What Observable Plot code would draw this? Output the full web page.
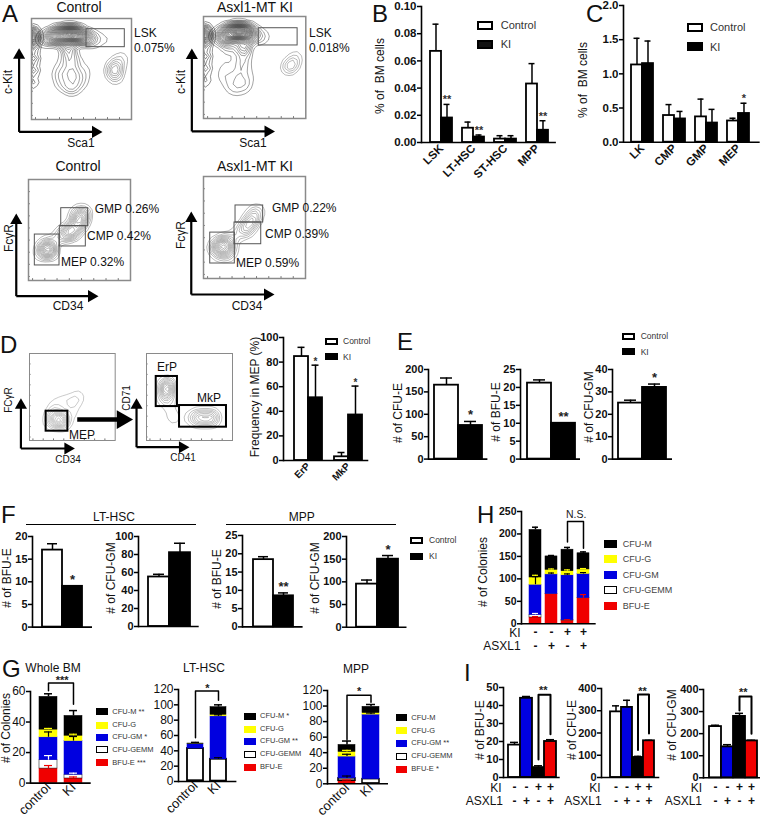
<!DOCTYPE html>
<html><head><meta charset="utf-8">
<script src="https://cdn.jsdelivr.net/npm/d3@7"></script>
<script src="https://cdn.jsdelivr.net/npm/@observablehq/plot@0.6"></script>
<style>
html,body{margin:0;padding:0;background:#fff}
#root{position:relative;width:763px;height:817px;overflow:hidden;font-family:"Liberation Sans",Arial,sans-serif;color:#111}
#root svg{position:absolute;overflow:visible;background:transparent}
.t{position:absolute;white-space:pre;line-height:1}
.s{position:absolute;box-sizing:border-box}
</style></head><body><div id="root"></div>
<script>
// ---------- Data ----------
const seriesFill={Control:"#fff",KI:"#000"};
const bGroups=["LSK","LT-HSC","ST-HSC","MPP"];
const bControl=[.067,.0105,.0025,.043], bControlTop=[.087,.015,.005,.058];
const bKI=[.018,.004,.0025,.009], bKITop=[.028,.0055,.005,.016];
const bStars=["**","**","","**"];
const cGroups=["LK","CMP","GMP","MEP"];
const cControl=[1.13,.39,.37,.31], cControlTop=[1.52,.55,.63,.35];
const cKI=[1.15,.34,.28,.42], cKITop=[1.48,.45,.48,.57];
const cStars=["","","","*"];
const dGroups=["ErP","MkP"];
const dControl=[84.5,3], dControlTop=[92,6.5];
const dKI=[51,37], dKITop=[77.5,60.5];
const dStars=["*","*"];
const pairLabels=["Control","KI"];
const eCFUE=[165,75], eCFUETop=[181,84];
const eBFUE=[21.2,10], eBFUETop=[22.1,10];
const eCFUGM=[25,32], eCFUGMTop=[26.3,33.5];
const fLtBFUE=[17,9], fLtBFUETop=[18.4,9];
const fLtGM=[55,82], fLtGMTop=[58,92.5];
const fMppBFUE=[18.4,8.5], fMppBFUETop=[19.2,9.3];
const fMppGM=[95,150], fMppGMTop=[104,158];
const colonyTypes=["BFU-E","CFU-GEMM","CFU-GM","CFU-G","CFU-M"];
const colonyColors=["#f00000","#ffffff","#0000e0","#ffff00","#000000"];
const hCats=["a","b","c","d"];
const hStacks=[[14,6,67,16,106],[66,.5,43.5,10,30],[7,1,100,9,48],[57,.5,53.5,10,36]];
const hTop=[215,152,170,160];
const hInner=[["a",14,16,"#f00000"],["a",20,23,"#fff"],["a",87,105,"#000"],["a",103,108,"#ff0"],["b",110,113,"#000"],["b",120,122,"#ff0"],
  ["c",7,9,"#f00000"],["c",108,111,"#000"],["c",117,120,"#ff0"],["d",57,65,"#f00000"],["d",111,114,"#000"],["d",121,123,"#ff0"]];
const gCats=["control","KI"];
const g1Stacks=[[9.5,5.5,15,5,21.5],[3,2.5,22,3.5,13]];
const g1Top=[58.5,47.5];
const g1Inner=[["control",9.5,11.5,"#f00000"],["control",15,18,"#fff"],["control",30,33.5,"#000"],["control",35,35.8,"#ff0"],
  ["KI",3,4,"#f00000"],["KI",5.5,6.5,"#fff"],["KI",27.5,30.5,"#000"],["KI",31,32,"#ff0"]];
const g2Stacks=[[1,42,6,.1,.4],[.5,28.5,56,2,10]];
const g2Top=[51,100];
const g2Inner=[["KI",29,31,"#000"],["KI",85,87,"#000"]];
const g3Stacks=[[4,3,28,6,9],[.5,5.5,83,2,8]];
const g3Top=[55,102];
const g3Inner=[["control",4,5,"#f00000"],["control",7,10,"#000"],["control",35,38,"#000"],["control",41,43,"#ff0"],["KI",89,91,"#000"]];
const iCats=["--","-+","+-","++"];
const iColors=["#fff","#0000e0","#000","#f00000"];
const iBFUE=[18,44,5.5,20], iBFUETop=[19.5,45,6.5,21];
const iCFUE=[295,315,90,165], iCFUETop=[322,347,95,167];
const iCFUGM=[232,140,278,167], iCFUGMTop=[238,150,292,170];
const kiRow=["-","-","+","+"], asxlRow=["-","+","-","+"];

// flow cytometry populations: [x %, y %, weight]
const a1Main=[[8,79,.5],[12,80,1],[16,81,1.8],[20,82,3],[24,83,3.5],[28,84,4],[32,84,5],[36,85,6],[40,85,6],[44,84,6],[48,83,4],[52,82,3],[56,81,2.2],[60,80,1.4],[65,80,.8],[70,79,.5],[75,79,.3],[80,79,.2],
 [34,78,2],[36,73,2],[37,68,1.8],[39,63,1.4],[40,58,1.1],[40,52,1],[40,46,1],[32,58,.5],[29,52,.6],[27,46,.7],[28,40,.8],[31,35,.9],[36,32,1],[41,31,1],[46,33,.9],[50,38,.8],[52,44,.7],[53,50,.5],[50,58,.4],[34,46,1],[40,40,1.1],[45,44,.9]];
const a1Sat=[[82,48,1],[84,52,1],[90,60,.5],[84,42,.5]];
const a2Main=[[10,79,.5],[14,81,1],[18,82,1.8],[22,83,3],[26,84,4],[30,85,5],[34,86,6],[38,85,6],[42,84,4.5],[46,83,3],[50,81,1.2],[55,80,.7],[60,80,.4],[66,80,.2],
 [22,76,2.2],[26,71,1],[38,74,2],[39,70,1.6],[40,65,1.1],[38,60,.9],[38,54,.9],[37,48,.9],[24,58,.35],[20,50,.45],[19,43,.5],[22,36,.6],[27,31,.7],[33,28,.7],[39,31,.7],[44,36,.6],[46,44,.4],[30,42,.8],[36,38,.9]];
const a2Sat=[[83,50,1],[87,54,.9],[90,60,.5]];
const a3Main=[[14,28,2],[16,32,3],[19,32,4],[22,30,3],[17,24,1.2],[17,38,1],[24,40,.8],[30,43,1.4],[36,46,3],[40,48,4],[44,50,4],[48,54,3.5],[50,60,4],[52,64,3.5],[54,67,2.2],[46,66,1.6]];
const a4Main=[[12,30,3],[16,32,5],[20,34,6],[24,30,5],[18,24,3],[24,24,1.5],[26,38,1.6],[32,42,1.4],[38,47,2.6],[42,50,3.5],[46,54,3.2],[48,58,3],[50,62,2.5],[53,67,1.6]];
const d1Main=[[24,22,2.5],[30,26,4],[34,24,6],[38,22,6],[28,34,1.6],[30,42,1.2],[38,46,1],[46,44,1.2],[52,44,1.2],[57,48,1.2],[58,56,.7],[48,28,.9],[52,34,.7]];
const d2Main=[[22,48,2.5],[23,54,4],[23,60,5],[23,66,3],[26,40,.8],[30,30,1.3],[32,22,.8],[50,26,1.2],[56,26,2],[62,26,4],[68,26,4],[74,26,4],[80,26,2]];
const leftStrip=[[2.5,90,.8],[2.5,86,1.4],[2.5,82,1.6],[2.5,78,1.4],[2.5,74,1],[2.5,68,.9],[2.5,62,.8],[2.5,56,.7],[2.5,50,.7],[2.5,44,.5],[2.5,38,.4],[2.5,32,.3]];

// ---------- Helpers ----------
const root=document.getElementById("root");
function txt(x,y,s,{size=12,weight="normal",anchor="start",rot=0,color="#111"}={}){
  const e=document.createElement("div");e.className="t";e.textContent=s;
  const tx=anchor==="middle"?"-50%":anchor==="end"?"-100%":"0";
  Object.assign(e.style,{left:x+"px",top:y+"px",fontSize:size+"px",fontWeight:weight,color,transform:`translate(${tx},-50%) rotate(${rot}deg)`});
  root.appendChild(e);
}
function legend(x,w,h,tx,ys,names,fills,strokes,size,color="#333",sw=2){
  names.forEach((n,i)=>{
    const e=document.createElement("div");e.className="s";
    Object.assign(e.style,{left:x+"px",top:(ys[i]-h/2)+"px",width:w+"px",height:h+"px",background:fills[i],border:`${sw}px solid ${strokes[i]}`});
    root.appendChild(e);
    txt(tx,ys[i],n,{size,color});
  });
}
function mount(svg,left,top){svg.style.left=left+"px";svg.style.top=top+"px";root.appendChild(svg);}

function yAxisMarks(o){
  return [
    Plot.frame({anchor:"left",stroke:"#000",strokeWidth:1.6}),
    Plot.ruleY([0],{stroke:"#000",strokeWidth:1.6}),
    Plot.axisY({ticks:o.ticks,tickSize:4,tickPadding:1,label:null,tickFormat:o.fmt||d3.format("d"),
      strokeWidth:1.5,stroke:"#000",fill:"#111",fontSize:o.fs||11,fontWeight:o.fw||"bold",anchor:"left"})
  ];
}
const plotStyle={fontFamily:"Liberation Sans",background:"transparent",color:"#111"};
// grouped (Control / KI) bars, one facet for each category; axes in a plot of their own beneath
function grouped(o){
  const mL=45,mT=10,mR=5,mB=45,off=o.axisX-mL;
  const rows=[];
  o.groups.forEach((g,i)=>{
    rows.push({g,s:"Control",v:o.control[i],e:o.controlTop[i],star:""});
    rows.push({g,s:"KI",v:o.ki[i],e:o.kiTop[i],star:o.stars[i]});
  });
  const step=(o.x2-o.x1+o.gap)/o.groups.length;
  const dims={width:mL+o.right-o.axisX+mR,height:mT+o.bottom-o.top+mB,marginLeft:mL,marginTop:mT,marginRight:mR,marginBottom:mB,style:plotStyle};
  const axes=Plot.plot({...dims,y:{domain:[0,o.max],axis:null},x:{axis:null},marks:yAxisMarks(o)});
  mount(axes,off,o.top-mT);
  const svg=Plot.plot({...dims,
    fx:{domain:o.groups,range:[o.x1-off,o.x2-off],paddingInner:o.gap/step,paddingOuter:0,label:null},
    x:{domain:pairLabels,padding:0,axis:null},
    y:{domain:[0,o.max],axis:null},
    color:{type:"identity"},
    marks:[
      Plot.ruleX(rows,{fx:"g",x:"s",y1:"v",y2:"e",stroke:"#000",strokeWidth:1.5}),
      Plot.tickY(rows,{fx:"g",x:"s",y:"e",stroke:"#000",strokeWidth:1.5,insetLeft:o.capInset,insetRight:o.capInset}),
      Plot.barY(rows,{fx:"g",x:"s",y:"v",fill:d=>seriesFill[d.s],stroke:"#000",strokeWidth:1.8}),
      Plot.text(rows,{fx:"g",x:"s",y:"e",text:"star",dy:o.starDy??-3,lineAnchor:"bottom",fontWeight:"bold",fontSize:o.starSize||11,fill:"#333"}),
      Plot.axisFx({tickRotate:-45,tickSize:0,tickPadding:4,label:null,fontWeight:"bold",fontSize:o.fxSize||12,fill:"#111",anchor:"bottom"})
    ]
  });
  mount(svg,off,o.top-mT);
}
// plain bars on one band scale (pairs or four-way comparisons)
function plain(o){
  const mL=45,mT=12,mR=5,mB=30,off=o.axisX-mL;
  const rows=o.cats.map((k,i)=>({k,v:o.values[i],e:o.tops[i],fill:o.fills[i],star:o.stars?o.stars[i]:""}));
  const svg=Plot.plot({
    width:mL+o.right-o.axisX+mR,height:mT+o.bottom-o.top+mB,marginLeft:mL,marginTop:mT,marginRight:mR,marginBottom:mB,
    style:plotStyle,
    x:{domain:o.cats,range:[o.x1-off,o.x2-off],padding:0,axis:null},
    y:{domain:[0,o.max],axis:null},
    color:{type:"identity"},
    marks:[
      Plot.ruleX(rows,{x:"k",y1:"v",y2:"e",stroke:"#000",strokeWidth:1.5}),
      Plot.tickY(rows,{x:"k",y:"e",stroke:"#000",strokeWidth:1.5,insetLeft:o.capInset||5,insetRight:o.capInset||5}),
      Plot.barY(rows,{x:"k",y:"v",fill:"fill",stroke:o.barStroke||"#000",strokeWidth:1.8}),
      Plot.text(rows,{x:"k",y:"e",text:"star",dy:o.starDy??-2,lineAnchor:"bottom",fontWeight:"bold",fontSize:o.starSize||13,fill:"#222"}),
      ...bracketMarks(o),
      ...signRows(o),
      ...yAxisMarks(o)
    ]
  });
  mount(svg,off,o.top-mT);
}
function bracketMarks(o){
  if(!o.bracket) return [];
  const [a,b,yA,yTop,yB,label]=o.bracket;
  const pts=[{x:a,y:yA},{x:a,y:yTop},{x:b,y:yTop},{x:b,y:yB}];
  return [
    Plot.line(pts,{x:"x",y:"y",stroke:"#000",strokeWidth:o.bracketWidth||1.5}),
    Plot.text([label],{frameAnchor:"top-left",lineAnchor:"middle",textAnchor:"middle",text:d=>d,dx:o.bracketLabelX,dy:o.bracketLabelY,fontSize:o.bracketSize||11,fontWeight:o.bracketSize?"normal":"bold",fill:"#222"})
  ];
}
function signRows(o){
  if(!o.signs) return [];
  const mk=(row,dy)=>Plot.text(o.cats.map((k,i)=>({k,s:row[i]})),{x:"k",text:"s",frameAnchor:"bottom",lineAnchor:"middle",dy,fontWeight:"bold",fontSize:12,fill:"#111"});
  return [mk(kiRow,o.signs[0]),mk(asxlRow,o.signs[1])];
}
// stacked colony counts
function stacked(o){
  const mL=45,mT=24,mR=5,mB=48,off=o.axisX-mL;
  const rows=[];
  o.cats.forEach((k,i)=>colonyTypes.forEach((t,j)=>rows.push({k,t,v:o.stacks[i][j]})));
  const tops=o.cats.map((k,i)=>{const sum=d3.sum(o.stacks[i]);return {k,v:sum,e:o.tops[i]};});
  const inner=(o.inner||[]).map(([k,y1,y2,c])=>({k,y1,y2,c}));
  const svg=Plot.plot({
    width:mL+o.right-o.axisX+mR,height:mT+o.bottom-o.top+mB,marginLeft:mL,marginTop:mT,marginRight:mR,marginBottom:mB,
    style:plotStyle,
    x:{domain:o.cats,range:[o.x1-off,o.x2-off],padding:o.padding,...(o.xLabels?{}:{axis:null})},
    y:{domain:[0,o.max],axis:null},
    color:{type:"identity"},
    marks:[
      Plot.ruleX(tops,{x:"k",y1:"v",y2:"e",stroke:"#000",strokeWidth:1.5}),
      Plot.tickY(tops,{x:"k",y:"e",stroke:"#000",strokeWidth:1.5,insetLeft:o.capInset,insetRight:o.capInset}),
      Plot.barY(rows,{x:"k",y:"v",order:null,fill:d=>colonyColors[colonyTypes.indexOf(d.t)],
        stroke:d=>d.t==="CFU-GEMM"?"#000":colonyColors[colonyTypes.indexOf(d.t)],strokeWidth:d=>d.t==="CFU-GEMM"?o.gemmStroke:.5}),
      Plot.ruleX(inner,{x:"k",y1:"y1",y2:"y2",stroke:"c",strokeWidth:1.2}),
      Plot.tickY(inner,{x:"k",y:"y2",stroke:"c",strokeWidth:1.2,insetLeft:o.capInset,insetRight:o.capInset}),
      ...bracketMarks(o),
      ...signRows(o),
      ...(o.xLabels?[Plot.axisX({tickRotate:-45,tickSize:0,tickPadding:2,label:null,fontSize:13,fill:"#111"})]:[]),
      ...yAxisMarks(o)
    ]
  });
  mount(svg,off,o.top-mT);
}
// flow cytometry contour panel; scales run 0-100 across the gate frame
function flow(o){
  const [l,r,t,b]=o.frame,mL=26,mR=6,mT=4,mB=30;
  const [cx,cy,upTip,rightTip]=o.axes;
  const thin=[{x1:cx,y1:cy,x2:cx,y2:upTip-2},{x1:cx,y1:cy,x2:rightTip-2,y2:cy}];
  const big=o.bigArrow?[{x1:o.bigArrow[0],y1:o.bigArrow[2],x2:o.bigArrow[1]-3,y2:o.bigArrow[2]}]:[];
  const gates=o.gates.map(([x1,x2,y1,y2])=>({x1,x2,y1,y2}));
  const minor=d3.range(4,100,12);
  const svg=Plot.plot({
    width:mL+r-l+mR,height:mT+b-t+mB,marginLeft:mL,marginRight:mR,marginTop:mT,marginBottom:mB,
    style:{fontFamily:"Liberation Sans",background:"transparent"},
    x:{domain:[0,100],axis:null},y:{domain:[0,100],axis:null},
    marks:[
      ...o.pops.map(p=>Plot.density(p.pts,{x:d=>d[0],y:d=>d[1],weight:d=>d[2],bandwidth:p.bw,thresholds:p.thr,stroke:p.color||"#444",strokeWidth:p.w||.5,clip:true})),
      Plot.ruleX(minor,{x:d=>d,y1:0,y2:1.8,stroke:"#333",strokeWidth:.7}),
      Plot.ruleY(minor,{y:d=>d,x1:0,x2:1.8,stroke:"#333",strokeWidth:.7}),
      Plot.frame({stroke:"#8a8a8a",strokeWidth:o.frameW||1.5}),
      Plot.rect(gates,{x1:"x1",x2:"x2",y1:"y1",y2:"y2",stroke:o.gateColor||"#555",strokeWidth:o.gateW||1,fill:"none"}),
      Plot.link(thin,{x1:"x1",y1:"y1",x2:"x2",y2:"y2",stroke:"#000",strokeWidth:2.2}),
      Plot.dot([{x:cx,y:upTip}],{x:"x",y:"y",symbol:"triangle",r:4.5,fill:"#000",stroke:"none",dy:3}),
      Plot.dot([{x:rightTip,y:cy}],{x:"x",y:"y",symbol:"triangle",r:4.5,fill:"#000",stroke:"none",rotate:90,dx:-3}),
      ...(big.length?[
        Plot.link(big,{x1:"x1",y1:"y1",x2:"x2",y2:"y2",stroke:"#000",strokeWidth:4.5}),
        Plot.dot([{x:o.bigArrow[1],y:o.bigArrow[2]}],{x:"x",y:"y",symbol:"triangle",r:7,fill:"#000",stroke:"none",rotate:90,dx:-5})
      ]:[])
    ]
  });
  mount(svg,l-mL,t-mT);
}

// ---------- Panel A ----------
flow({frame:[30.7,130.7,18.3,119.3],axes:[-12.4,-12.3,66.6,67],gates:[[55,93.3,71.6,89.4]],
  pops:[{pts:a1Main,bw:2.6,thr:30,color:"#333",w:.45},{pts:a1Sat,bw:2.8,thr:7,color:"#666"},{pts:leftStrip,bw:1.1,thr:12,color:"#222"}]});
flow({frame:[202.7,305,16,118],axes:[-11.4,-12.7,64.7,66],gates:[[54,92,71.6,88.5]],
  pops:[{pts:a2Main,bw:2.6,thr:30,color:"#333",w:.45},{pts:a2Sat,bw:2.6,thr:5,color:"#777"},{pts:leftStrip,bw:1.1,thr:12,color:"#222"}]});
flow({frame:[28,130,179,280],axes:[-12,-15.5,62.4,64.7],
  gates:[[32.1,58.5,53.8,71.6],[30.7,56.2,33.7,53.8],[6.2,30.4,14.9,45.5]],pops:[{pts:a3Main,bw:3,thr:13,color:"#666",w:.45}]});
flow({frame:[203,305,176,278],axes:[-12,-15.7,61.8,65.7],
  gates:[[31.4,58.5,54.9,71.6],[30.4,56.6,33.6,54.9],[6.6,30.7,14.7,45]],pops:[{pts:a4Main,bw:3,thr:14,color:"#666",w:.45}]});
txt(2,14,"A",{size:24});
txt(79,7,"Control",{size:14,anchor:"middle"});
txt(255,7,"Asxl1-MT KI",{size:14,anchor:"middle"});
txt(8,82,"c-Kit",{size:12,anchor:"middle",rot:-90});
txt(181,82,"c-Kit",{size:12,anchor:"middle",rot:-90});
txt(81,143,"Sca1",{size:12,anchor:"middle"});
txt(253,143,"Sca1",{size:12,anchor:"middle"});
txt(134,33,"LSK",{size:12});txt(134,48,"0.075%",{size:12});
txt(309,33,"LSK",{size:12});txt(309,48,"0.018%",{size:12});
txt(78,166,"Control",{size:14,anchor:"middle"});
txt(255,166,"Asxl1-MT KI",{size:14,anchor:"middle"});
txt(9,238,"FcγR",{size:12,anchor:"middle",rot:-90});
txt(181,235,"FcγR",{size:12,anchor:"middle",rot:-90});
txt(68,306,"CD34",{size:12,anchor:"middle"});
txt(247,306,"CD34",{size:12,anchor:"middle"});
txt(94.7,209,"GMP 0.26%",{size:12});txt(87,236,"CMP 0.42%",{size:12});txt(61,262,"MEP 0.32%",{size:12});
txt(272,208,"GMP 0.22%",{size:12});txt(265,234,"CMP 0.39%",{size:12});txt(236,263,"MEP 0.59%",{size:12});

// ---------- Panel B, C ----------
grouped({axisX:420.7,right:555.6,top:5.7,bottom:141.7,max:.1,ticks:[0,.02,.04,.06,.08,.1],fmt:d3.format(".2f"),fs:11.5,
  groups:bGroups,control:bControl,controlTop:bControlTop,ki:bKI,kiTop:bKITop,stars:bStars,x1:429,x2:548.7,gap:9.7,capInset:2.5,fxSize:11.5,starDy:-1});
txt(372,14,"B",{size:24});
txt(380,76,"% of  BM cells",{size:12,anchor:"middle",rot:-90});
legend(477.3,16,9,500.7,[25,44],pairLabels,["#fff","#111"],["#000","#000"],11);
grouped({axisX:623.3,right:760,top:5,bottom:141.7,max:2,ticks:[0,.5,1,1.5,2],fmt:d3.format(".1f"),fs:11.5,
  groups:cGroups,control:cControl,controlTop:cControlTop,ki:cKI,kiTop:cKITop,stars:cStars,x1:630.7,x2:751.3,gap:9.7,capInset:2.5,fxSize:11.5,starDy:-1});
txt(586,14,"C",{size:24});
txt(583,80,"% of  BM cells",{size:12,anchor:"middle",rot:-90});
legend(687,16,9,710,[27,46.7],pairLabels,["#fff","#000"],["#000","#000"],11);

// ---------- Panel D ----------
flow({frame:[29.3,115,353,440],axes:[-10,-9.2,44,48.3],gates:[[19.4,44.8,10.7,33.7]],gateColor:"#000",gateW:2,frameW:1,
  pops:[{pts:d1Main,bw:2.8,thr:12,color:"#888",w:.45}],bigArrow:[55.7,114,24]});
flow({frame:[146,232,353,440],axes:[-11.6,-7.7,44,45.3],gates:[[11.3,36,39,73.6],[38.4,93,15.3,40.2]],gateColor:"#000",gateW:2,frameW:1,
  pops:[{pts:d2Main,bw:2.6,thr:11,color:"#777",w:.45}]});
txt(0,345,"D",{size:24});
txt(9,400,"FCγR",{size:10,anchor:"middle",rot:-90});
txt(68,460,"CD34",{size:10,anchor:"middle"});
txt(82,435,"MEP",{size:12,anchor:"middle"});
txt(167,366.7,"ErP",{size:12,anchor:"middle"});
txt(209,397.7,"MkP",{size:12,anchor:"middle"});
txt(127,398,"CD71",{size:10,anchor:"middle",rot:-90});
txt(183,458,"CD41",{size:10,anchor:"middle"});
grouped({axisX:282.7,right:368,top:337.3,bottom:460.3,max:100,ticks:[0,20,40,60,80,100],fs:11,
  groups:dGroups,control:dControl,controlTop:dControlTop,ki:dKI,kiTop:dKITop,stars:dStars,x1:292.7,x2:361.7,gap:12.7,capInset:3.5,fxSize:10,starDy:0,starSize:10});
txt(255,396.7,"Frequency in MEP (%)",{size:12,anchor:"middle",rot:-90});
legend(325,13,7,343,[341,356.7],pairLabels,["#fff","#000"],["#000","#000"],8.5);

// ---------- Panel E ----------
const cw=["#fff","#000"];
plain({axisX:428.3,right:487.7,top:368.7,bottom:458.3,max:200,ticks:[0,50,100,150,200],cats:pairLabels,values:eCFUE,tops:eCFUETop,fills:cw,stars:["","*"],x1:434,x2:483.3,fs:11,capInset:6});
plain({axisX:520,right:580,top:368.7,bottom:458.3,max:25,ticks:[0,5,10,15,20,25],cats:pairLabels,values:eBFUE,tops:eBFUETop,fills:cw,stars:["","**"],x1:525.7,x2:575.3,fs:11,capInset:6});
plain({axisX:611.7,right:671.7,top:368.7,bottom:458.3,max:40,ticks:[0,10,20,30,40],cats:pairLabels,values:eCFUGM,tops:eCFUGMTop,fills:cw,stars:["","*"],x1:617.3,x2:666.7,fs:11,capInset:6});
txt(397,342,"E",{size:24});
txt(398,413,"# of CFU-E",{size:12,anchor:"middle",rot:-90});
txt(496,411.7,"# of BFU-E",{size:12,anchor:"middle",rot:-90});
txt(588.7,407,"# of CFU-GM",{size:12,anchor:"middle",rot:-90});
legend(621.7,13,7,640.7,[336,351.7],pairLabels,["#fff","#000"],["#000","#000"],8.5);

// ---------- Panel F ----------
plain({axisX:31.7,right:91.7,top:535.7,bottom:626.3,max:20,ticks:[0,5,10,15,20],cats:pairLabels,values:fLtBFUE,tops:fLtBFUETop,fills:cw,stars:["","*"],x1:41.3,x2:82.7,fs:11,capInset:5});
plain({axisX:138.3,right:199,top:536,bottom:626,max:100,ticks:[0,20,40,60,80,100],cats:pairLabels,values:fLtGM,tops:fLtGMTop,fills:cw,x1:147.7,x2:190,fs:11,capInset:5});
plain({axisX:241.7,right:302.3,top:535.3,bottom:626.7,max:25,ticks:[0,5,10,15,20,25],cats:pairLabels,values:fMppBFUE,tops:fMppBFUETop,fills:cw,stars:["","**"],x1:251.7,x2:293.3,fs:11,capInset:5});
plain({axisX:345.5,right:406,top:536,bottom:626.7,max:200,ticks:[0,50,100,150,200],cats:pairLabels,values:fMppGM,tops:fMppGMTop,fills:cw,stars:["","*"],x1:355.7,x2:397.7,fs:11,capInset:5});
txt(1,515,"F",{size:24});
txt(114,517,"LT-HSC",{size:12,anchor:"middle"});
txt(301.7,517,"MPP",{size:12,anchor:"middle"});
for(const [a,b] of [[26,195.7],[226,396]]){
  const e=document.createElement("div");e.className="s";
  Object.assign(e.style,{left:a+"px",top:"524px",width:(b-a)+"px",height:"1px",background:"#000"});root.appendChild(e);
}
txt(6.7,578,"# of BFU-E",{size:12,anchor:"middle",rot:-90});
txt(110.7,578,"# of CFU-GM",{size:12,anchor:"middle",rot:-90});
txt(216.7,579,"# of BFU-E",{size:12,anchor:"middle",rot:-90});
txt(315,578,"# of CFU-GM",{size:12,anchor:"middle",rot:-90});
legend(410,13,7,429,[540,556],pairLabels,["#fff","#000"],["#000","#000"],8.5);

// ---------- Panel G ----------
const legendOrder=[4,3,2,1,0];
const lf=legendOrder.map(i=>colonyColors[i]);
const ls=legendOrder.map(i=>i===1?"#000":colonyColors[i]);
const gBase={cats:gCats,xLabels:true,fw:"normal",fs:12};
stacked({...gBase,axisX:30,right:90.7,top:690.7,bottom:782.3,max:60,ticks:[0,20,40,60],stacks:g1Stacks,tops:g1Top,inner:g1Inner,x1:30.8,x2:89.2,padding:.28,capInset:5,gemmStroke:.5,
  bracket:["control","KI",60.5,65.5,51.7,"***"],bracketLabelX:31.7,bracketLabelY:-11});
txt(2,669,"G",{size:24});
txt(53,667.7,"Whole BM",{size:12,anchor:"middle"});
txt(6,728,"# of Colonies",{size:12,anchor:"middle",rot:-90});
legend(96,11.7,7,112.3,[711.7,725,737,749.7,762.7],["CFU-M **","CFU-G","CFU-GM *","CFU-GEMM","BFU-E ***"],lf,ls,7.5,"#333",1.5);
stacked({...gBase,axisX:178.3,right:236.7,top:689.3,bottom:781.3,max:120,ticks:[0,20,40,60,80,100,120],stacks:g2Stacks,tops:g2Top,inner:g2Inner,x1:178.9,x2:234,padding:.3,capInset:4,gemmStroke:1.8,
  bracket:["control","KI",57,118,106,"*"],bracketLabelX:29,bracketLabelY:-1});
txt(204,667.7,"LT-HSC",{size:12,anchor:"middle"});
legend(244,11.7,7,260,[716,729,741.3,754,767],["CFU-M *","CFU-G","CFU-GM **","CFU-GEMM","BFU-E"],lf,ls,7.5,"#333",1.5);
stacked({...gBase,axisX:327.3,right:388.3,top:690,bottom:783.3,max:120,ticks:[0,20,40,60,80,100,120],stacks:g3Stacks,tops:g3Top,inner:g3Inner,x1:330.5,x2:386.5,padding:.28,capInset:4,gemmStroke:1.5,
  bracket:["control","KI",57,114,105,"*"],bracketLabelX:31.7,bracketLabelY:1});
txt(356,669,"MPP",{size:12,anchor:"middle"});
legend(396,10.7,7,411.3,[717.7,730.7,743.3,756,769],["CFU-M","CFU-G","CFU-GM **","CFU-GEMM","BFU-E *"],lf,ls,7.5,"#333",1.5);

// ---------- Panel H ----------
stacked({axisX:521,right:595.7,top:511,bottom:623.3,max:250,ticks:[0,50,100,150,200,250],cats:hCats,stacks:hStacks,tops:hTop,inner:hInner,x1:523.2,x2:594.5,padding:.23,capInset:3,fs:10.5,gemmStroke:.5,
  bracket:["c","d",182,228,168,"N.S."],bracketLabelX:54.7,bracketLabelY:3,bracketSize:10.5,signs:[8.5,22.5]});
txt(477,515,"H",{size:24});
txt(483,572,"# of Colonies",{size:12,anchor:"middle",rot:-90});
txt(520.7,633,"KI",{size:12,anchor:"end"});
txt(520.7,645.7,"ASXL1",{size:12,anchor:"end"});
legend(604,13.3,8,622.7,[543.7,559.3,575,590.3,605.7],["CFU-M","CFU-G","CFU-GM","CFU-GEMM","BFU-E"],lf,ls,9,"#444",1.5);

// ---------- Panel I ----------
const iBase={cats:iCats,fills:iColors,fw:"bold",fs:11,capInset:2,signs:[9.3,23.3],bracketWidth:2};
plain({...iBase,axisX:503.3,right:560,top:686.7,bottom:776.7,max:50,ticks:[0,10,20,30,40,50],values:iBFUE,tops:iBFUETop,x1:507.7,x2:557.3,
  bracket:[iCats[2],iCats[3],10,46,24,"**"],bracketLabelX:39.7,bracketLabelY:3});
plain({...iBase,axisX:600.7,right:659,top:688.3,bottom:777.3,max:400,ticks:[0,100,200,300,400],values:iCFUE,tops:iCFUETop,x1:608,x2:655.7,
  bracket:[iCats[2],iCats[3],123,373,198,"**"],bracketLabelX:41,bracketLabelY:3});
plain({...iBase,axisX:703,right:760,top:689,bottom:777.3,max:400,ticks:[0,100,200,300,400],values:iCFUGM,tops:iCFUGMTop,x1:708.3,x2:756.7,
  bracket:[iCats[2],iCats[3],305,368,199,"**"],bracketLabelX:39.7,bracketLabelY:3});
txt(464,673,"I",{size:24});
txt(480,730,"# of BFU-E",{size:12,anchor:"middle",rot:-90});
txt(571.7,730,"# of CFU-E",{size:12,anchor:"middle",rot:-90});
txt(671.7,725,"# of CFU-GM",{size:12,anchor:"middle",rot:-90});
for(const [a,b] of [[501.7,503],[600.7,601.7],[702,702]]){
  txt(a,788,"KI",{size:12,anchor:"end"});
  txt(b,801,"ASXL1",{size:12,anchor:"end"});
}
</script></body></html>
